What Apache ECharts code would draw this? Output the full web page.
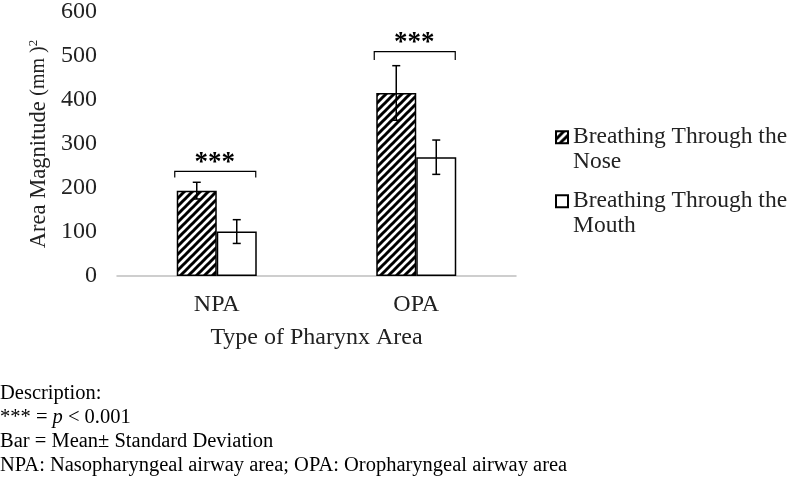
<!DOCTYPE html>
<html>
<head>
<meta charset="utf-8">
<script src="https://cdn.jsdelivr.net/npm/echarts@6/dist/echarts.min.js"></script>
<style>html,body{margin:0;padding:0;background:#fff}#c{width:790px;height:478px}</style>
</head>
<body>
<div id="c"></div>
<script>
// ---- data ----
var categories = ['NPA', 'OPA'];
var seriesNames = ['Breathing Through the\nNose', 'Breathing Through the\nMouth'];
var noseMean = [194, 416];
var noseSD = [19, 62];
var mouthMean = [101, 270];
var mouthSD = [27, 39];
var bracketLevel = [238, 510];   // height of significance bracket
var bracketTickEnd = [224, 491]; // lower end of bracket ticks
var starLevel = [267, 540];      // height of significance stars
var sigLabels = ['***', '***'];
var yTicks = [0, 100, 200, 300, 400, 500, 600];

var FONT = 'Liberation Serif';

// hatch pattern
var pc = document.createElement('canvas');
pc.width = 8; pc.height = 8;
var g = pc.getContext('2d');
g.fillStyle = '#fff'; g.fillRect(0, 0, 8, 8);
g.strokeStyle = '#000'; g.lineWidth = 3;
[0, 8, 16].forEach(function (k) {
  g.beginPath(); g.moveTo(k - 10, 10); g.lineTo(k + 2, -2); g.stroke();
});

var BAR_W = 40;

function errData(mean, sd) {
  return categories.map(function (c, i) { return [i, mean[i], sd[i]]; });
}
function errRender(offset) {
  return function (params, api) {
    var cat = api.value(0), m = api.value(1), s = api.value(2);
    var top = api.coord([cat, m + s]);
    var bot = api.coord([cat, m - s]);
    var x = top[0] + offset;
    var st = { stroke: '#000', lineWidth: 1.5 };
    return {
      type: 'group',
      children: [
        { type: 'line', shape: { x1: x, y1: top[1], x2: x, y2: bot[1] }, style: st },
        { type: 'line', shape: { x1: x - 4, y1: top[1], x2: x + 4, y2: top[1] }, style: st },
        { type: 'line', shape: { x1: x - 4, y1: bot[1], x2: x + 4, y2: bot[1] }, style: st }
      ]
    };
  };
}

var chart = echarts.init(document.getElementById('c'));
chart.setOption({
  animation: false,
  backgroundColor: '#fff',
  grid: { left: 117, right: 274, top: 10.5, bottom: 202, containLabel: false },
  legend: {
    orient: 'vertical', left: 550, top: 95.5,
    itemWidth: 12, itemHeight: 12, itemGap: -9.5,
    icon: 'rect',
    data: seriesNames,
    formatter: function (name) { return '\n' + name; },
    textStyle: { fontFamily: FONT, fontSize: 23.5, color: '#222', lineHeight: 24.5 }
  },
  xAxis: {
    type: 'category', data: categories,
    axisLine: { lineStyle: { color: '#bfbfbf', width: 1.5 } },
    axisTick: { show: false },
    axisLabel: { fontFamily: FONT, fontSize: 24, color: '#222', margin: 17 },
    name: 'Type of Pharynx Area', nameLocation: 'middle', nameGap: 50,
    nameTextStyle: { fontFamily: FONT, fontSize: 24, color: '#222' }
  },
  yAxis: {
    type: 'value', min: 0, max: 600, interval: 100,
    axisLine: { show: false }, axisTick: { show: false }, splitLine: { show: false },
    axisLabel: { fontFamily: FONT, fontSize: 24, color: '#222', margin: 20 },
    name: '{a|Area Magnitude }{b|(mm )}{c|2}', nameLocation: 'middle', nameGap: 61,
    nameTextStyle: {
      rich: {
        a: { fontFamily: FONT, fontSize: 22.5, color: '#222' },
        b: { fontFamily: FONT, fontSize: 20, color: '#222' },
        c: { fontFamily: FONT, fontSize: 13, color: '#222', verticalAlign: 'top', padding: [0, 0, 10, 0] }
      }
    }
  },
  series: [
    {
      name: seriesNames[0], type: 'bar', barWidth: BAR_W, barGap: '0%',
      data: noseMean,
      itemStyle: { color: { image: pc, repeat: 'repeat' }, borderColor: '#000', borderWidth: 1.5 }
    },
    {
      name: seriesNames[1], type: 'bar', barWidth: BAR_W, barGap: '0%',
      data: mouthMean,
      itemStyle: { color: '#fff', borderColor: '#000', borderWidth: 1.5 }
    },
    {
      type: 'custom', renderItem: errRender(-BAR_W / 2), data: errData(noseMean, noseSD),
      encode: { x: 0, y: [1] }, z: 5, silent: true
    },
    {
      type: 'custom', renderItem: errRender(BAR_W / 2), data: errData(mouthMean, mouthSD),
      encode: { x: 0, y: [1] }, z: 5, silent: true
    },
    {
      type: 'custom', z: 5, silent: true,
      data: categories.map(function (c, i) { return [i, bracketLevel[i], bracketTickEnd[i], starLevel[i]]; }),
      encode: { x: 0, y: [1] },
      renderItem: function (params, api) {
        var cat = api.value(0);
        var b = api.coord([cat, api.value(1)]);
        var t = api.coord([cat, api.value(2)]);
        var s = api.coord([cat, api.value(3)]);
        var x = b[0];
        return {
          type: 'group',
          children: [
            { type: 'polyline', shape: { points: [[x - 42, t[1]], [x - 42, b[1]], [x + 39, b[1]], [x + 39, t[1]]] },
              style: { stroke: '#000', lineWidth: 1.2, fill: null } },
            { type: 'text', style: { text: sigLabels[params.dataIndex], x: x - 2, y: s[1] + 5, align: 'center', verticalAlign: 'middle',
              font: 'bold 27px "Liberation Serif"', fill: '#000' } }
          ]
        };
      }
    }
  ],
  graphic: [
    {
      type: 'text', left: 0, top: 382,
      style: {
        text: 'Description:\n*** = {i|p} < 0.001\nBar = Mean\u00b1 Standard Deviation\nNPA: Nasopharyngeal airway area; OPA: Oropharyngeal airway area',
        fontFamily: FONT, fontSize: 20.5, lineHeight: 23.8, fill: '#000',
        rich: { i: { fontFamily: FONT, fontSize: 20.5, fontStyle: 'italic', fill: '#000' } }
      }
    }
  ]
});
</script>
</body>
</html>
